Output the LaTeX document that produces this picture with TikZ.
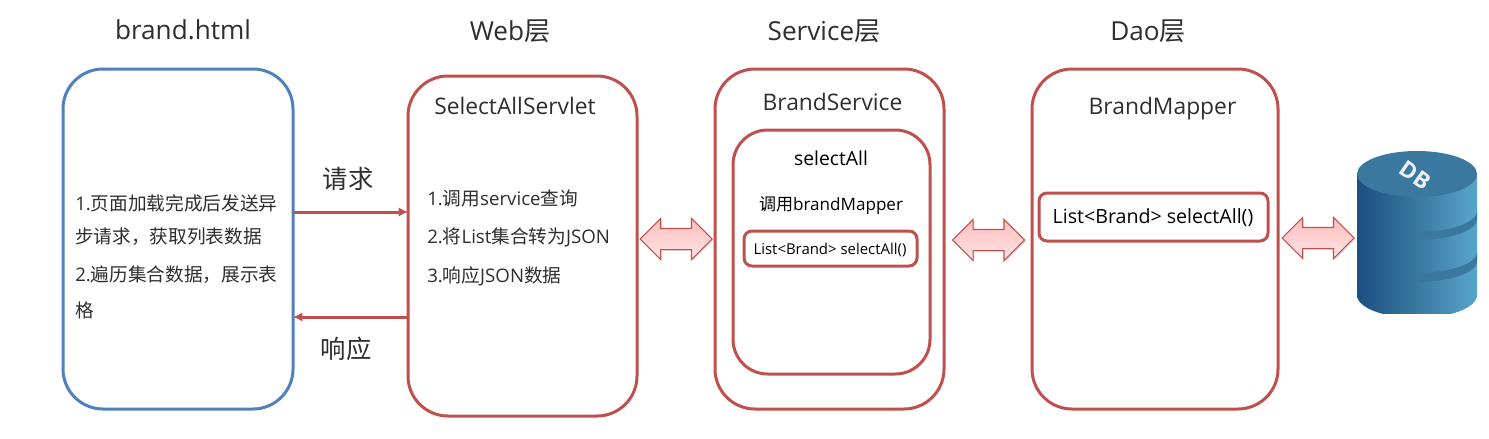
\documentclass[tikz,border=0pt]{standalone}
\usepackage{fontspec}
\setmainfont{Open Sans}
\newfontfamily\cjk{Noto Sans CJK SC}
\newcommand{\zh}[1]{{\cjk #1}}
\usetikzlibrary{shapes.arrows,shadows,calc,arrows.meta}
\definecolor{boxred}{HTML}{C0504D}
\definecolor{boxblue}{HTML}{4F81BD}
\definecolor{ink}{HTML}{2E2E2E}
\definecolor{dbdark}{HTML}{1B4F7F}
\definecolor{dbmid}{HTML}{3A78A0}
\definecolor{dblight}{HTML}{57A6CC}
\definecolor{pinktop}{HTML}{FFBDBD}
\definecolor{pinkbot}{HTML}{FFE6E6}
\begin{document}
\begin{tikzpicture}[x=0.75pt,y=-0.75pt,
  roundbox/.style={draw=boxred,line width=2.25pt,rectangle,rounded corners=#1,inner sep=0pt,outer sep=0pt,fill=none},
  roundbox/.default=30pt,
  dsize/.style n args={2}{minimum width=#1*0.75pt,minimum height=#2*0.75pt},
  title/.style={font=\fontsize{19.6pt}{22pt}\selectfont,text=ink,inner sep=0pt},
  head/.style={font=\fontsize{17.1pt}{20pt}\selectfont,text=ink,inner sep=0pt},
  body/.style={font=\fontsize{14pt}{16pt}\selectfont,text=ink,inner sep=0pt,anchor=west},
  blk/.style={text=black,inner sep=0pt},
  dblarrow/.style={shape=double arrow,draw=boxred,line width=0.8pt,top color=pinktop,bottom color=pinkbot,
    double arrow head extend=7.5pt,double arrow head indent=0pt,
    minimum width=30pt,minimum height=54pt,inner xsep=0pt,inner ysep=7.5pt,outer sep=0pt,
    drop shadow={opacity=.25,shadow xshift=1pt,shadow yshift=-1pt}},
  flow/.style={draw=boxred,line width=2.25pt,-{Latex[length=7pt,width=7pt]}},
]
\useasboundingbox[fill=white] (0,0) rectangle (1489,439);

% titles
\node[title] (t1) at (183,30) {brand.html};
\node[title] (t2) at (510,31) {Web\zh{层}};
\node[title] (t3) at (824,31) {Service\zh{层}};
\node[title] (t4) at (1148,31) {Dao\zh{层}};

% main boxes
\node[roundbox,draw=boxblue,dsize={230}{340}] (brand) at (178,239) {};
\node[roundbox,dsize={229}{340}] (web) at (522.5,246) {};
\node[roundbox,dsize={229}{340}] (service) at (829.5,239) {};
\node[roundbox,dsize={246}{340}] (dao) at (1155,239) {};
\node[roundbox=26pt,dsize={197}{244}] (inner) at (831.5,252) {};
\node[roundbox=6pt,dsize={173}{35}] (small) at (830.5,248.5) {};
\node[roundbox=6pt,dsize={229}{48}] (call) at (1153.5,217) {};

% brand text
\node[body] (b1) at (75,203) {1.\zh{页面加载完成后发送异}};
\node[body] (b2) at (75,237) {\zh{步请求，获取列表数据}};
\node[body] (b3) at (75,275) {2.\zh{遍历集合数据，展示表}};
\node[body] (b4) at (75,310) {\zh{格}};

% web text
\node[head,anchor=west] (wh) at (434,106) {SelectAllServlet};
\node[body] (w1) at (427,198) {1.\zh{调用}service\zh{查询}};
\node[body] (w2) at (427,237) {2.\zh{将}List\zh{集合转为}JSON};
\node[body] (w3) at (427,276) {3.\zh{响应}JSON\zh{数据}};

% service text
\node[head] (sh) at (832.5,102) {BrandService};
\node[blk,font=\fontsize{14.5pt}{16pt}\selectfont] (s1) at (831,158) {selectAll};
\node[blk,font=\fontsize{12.8pt}{16pt}\selectfont] (s2) at (831,206) {\zh{调用}brandMapper};
\node[blk,font=\fontsize{11.2pt}{12pt}\selectfont] (s3) at (830,250) {List<Brand> selectAll()};

% dao text
\node[head] (dh) at (1162.5,109) {BrandMapper};
\node[blk,font=\fontsize{14.7pt}{16pt}\selectfont] (d1) at (1153,218) {List<Brand> selectAll()};

% request / response
\coordinate (reqy) at (0,212);
\coordinate (resy) at (0,317);
\draw[flow] (brand.east |- reqy) -- (web.west |- reqy);
\draw[flow] (web.west |- resy) -- (brand.east |- resy);
\node[blk,text=ink,font=\fontsize{19pt}{20pt}\selectfont] (req) at (348,179) {\zh{请求}};
\node[blk,text=ink,font=\fontsize{19pt}{20pt}\selectfont] (res) at (346,349) {\zh{响应}};

% double arrows
\node[dblarrow] (a1) at (676,239) {};
\node[dblarrow] (a2) at (988.5,240) {};
\node[dblarrow] (a3) at (1318,238) {};

% database
\begin{scope}
  \clip (1350,140) rectangle (1485,313);
  \path[left color=dbdark,right color=dblight,middle color=dbmid]
     (1357,174) -- (1357,295)
     -- plot[domain=180:0,samples=50] ({1417+60*cos(\x)},{295+23*sin(\x)})
     -- (1477,174) -- cycle;
  \path[left color=dbdark,right color=dbmid,middle color=dbmid]
     plot[domain=180:0,samples=50] ({1417+60*cos(\x)},{211+21*sin(\x)})
     -- plot[domain=0:180,samples=50] ({1417+60*cos(\x)},{219+21*sin(\x)}) -- cycle;
  \path[left color=dbdark,right color=dbmid,middle color=dbmid]
     plot[domain=180:0,samples=50] ({1417+60*cos(\x)},{252+21*sin(\x)})
     -- plot[domain=0:180,samples=50] ({1417+60*cos(\x)},{261+21*sin(\x)}) -- cycle;
  \fill[dbmid] (1417,174) ellipse[x radius=60,y radius=23];
\end{scope}
\node[rotate=-35,text=white!90!dbmid,font=\fontsize{17pt}{18pt}\selectfont\bfseries,inner sep=0pt] (db) at (1415,175) {DB};
\end{tikzpicture}
\end{document}
